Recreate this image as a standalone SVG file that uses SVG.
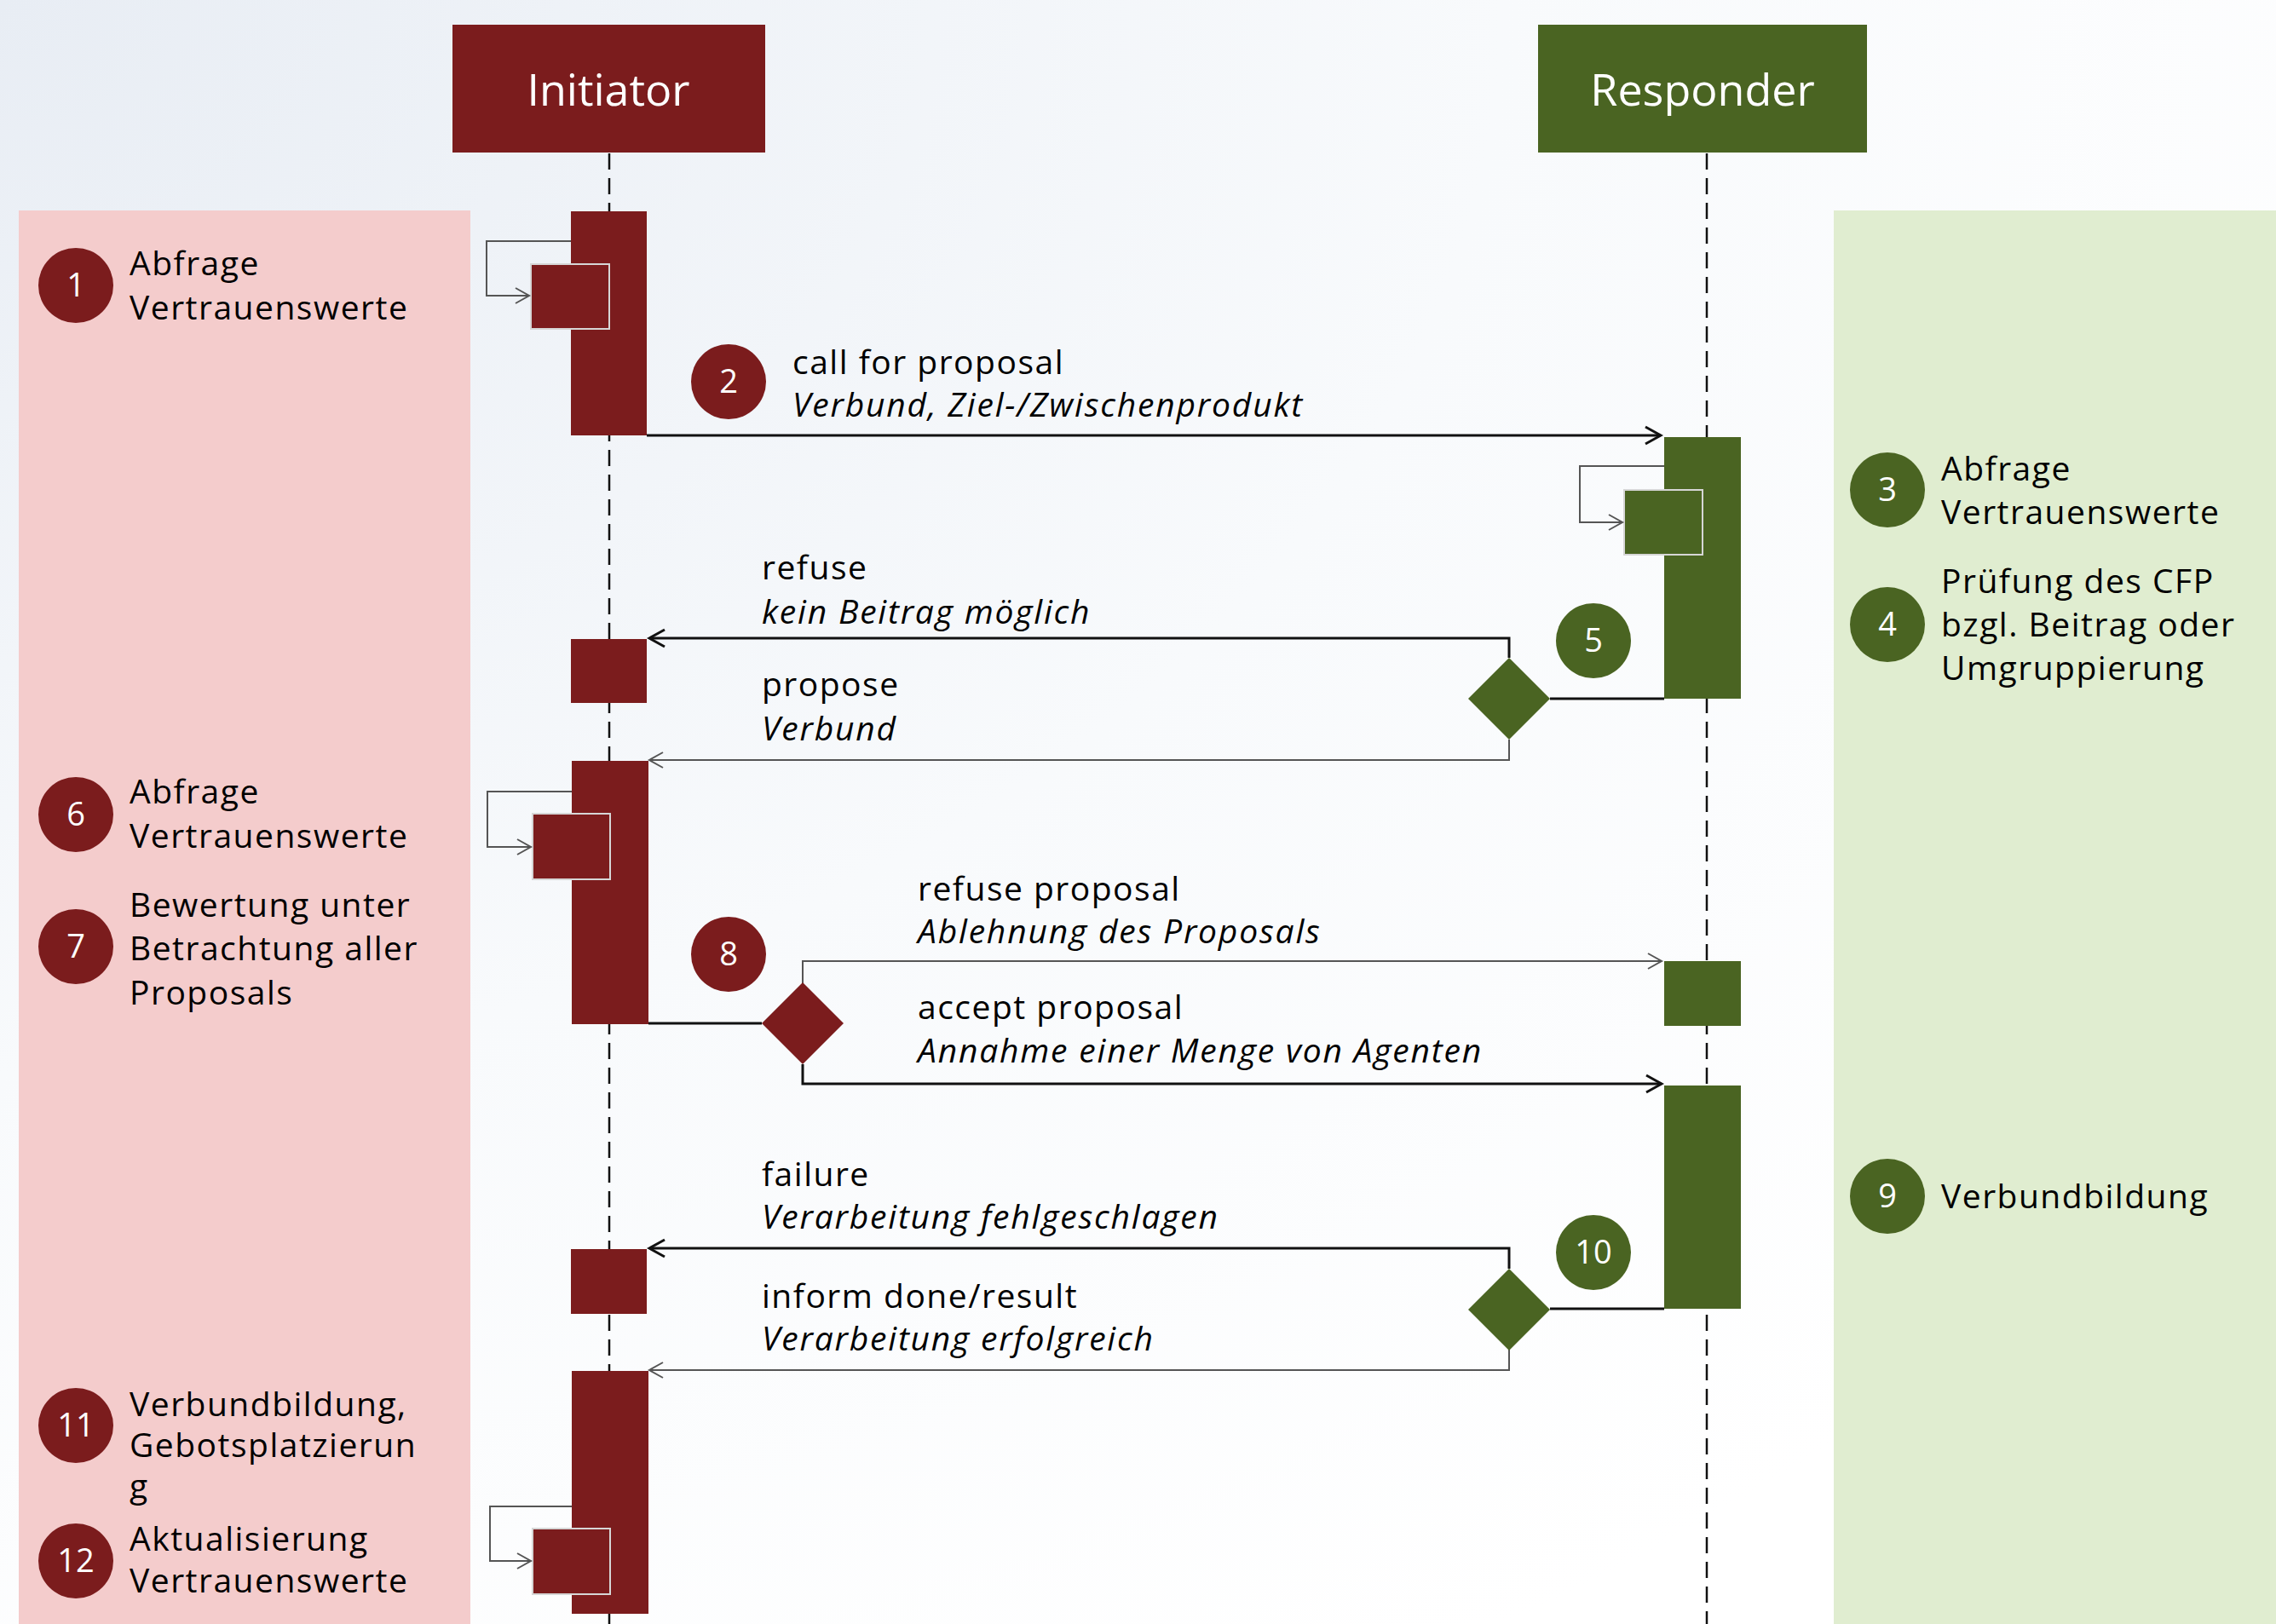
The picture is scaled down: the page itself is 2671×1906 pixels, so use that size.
<svg xmlns="http://www.w3.org/2000/svg" width="2671" height="1906" viewBox="0 0 2671 1906">
<defs>
<radialGradient id="bg" cx="0" cy="0" r="1.2" gradientUnits="objectBoundingBox">
<stop offset="0" stop-color="#e8edf4"/>
<stop offset="0.55" stop-color="#f8fafc"/>
<stop offset="1" stop-color="#ffffff"/>
</radialGradient>
<marker id="ah" markerWidth="24" markerHeight="24" refX="21" refY="12" orient="auto" markerUnits="userSpaceOnUse">
<path d="M3,2 L21,12 L3,22" fill="none" stroke="#111" stroke-width="3"/>
</marker>
<marker id="ahg" markerWidth="24" markerHeight="24" refX="21" refY="12" orient="auto" markerUnits="userSpaceOnUse">
<path d="M5,3 L21,12 L5,21" fill="none" stroke="#555" stroke-width="2"/>
</marker>
<style>
.red{fill:#7b1c1d}
.grn{fill:#4a6422}
.self{stroke:#d6d6d6;stroke-width:2}
.life{stroke:#111;stroke-width:2.5;stroke-dasharray:19 10;fill:none}
.msg{stroke:#111;stroke-width:3;fill:none}
.msgg{stroke:#555;stroke-width:2;fill:none}
.loop{stroke:#555;stroke-width:2;fill:none}
.t{font-family:"Open Sans","Noto Sans",sans-serif;font-size:39px;letter-spacing:1.5px;fill:#000}
.i{font-style:italic;letter-spacing:1.8px}
.num{font-family:"Open Sans","Noto Sans",sans-serif;font-size:38px;fill:#fff;text-anchor:middle}
.title{font-family:"Open Sans","Noto Sans",sans-serif;font-size:52px;fill:#fff;text-anchor:middle}
</style>
</defs>
<rect x="0" y="0" width="2671" height="1906" fill="url(#bg)"/>
<rect x="22" y="247" width="530" height="1659" fill="#f4cccc"/>
<rect x="2152" y="247" width="519" height="1659" fill="#e0edd0"/>

<g id="lifelines">
<line class="life" x1="715" y1="180" x2="715" y2="1906"/>
<line class="life" x1="2003" y1="180" x2="2003" y2="1906"/>
</g>

<g id="initiator">
<rect class="red" x="531" y="29" width="367" height="150"/>
<text class="title" x="714" y="124">Initiator</text>
</g>
<g id="responder">
<rect class="grn" x="1805" y="29" width="386" height="150"/>
<text class="title" x="1998" y="124">Responder</text>
</g>

<g id="activations">
<rect class="red" x="670" y="248" width="89" height="263"/>
<rect class="red self" x="623" y="310" width="92" height="76"/>
<rect class="red" x="670" y="750" width="89" height="75"/>
<rect class="red" x="671" y="893" width="90" height="309"/>
<rect class="red self" x="625" y="955" width="91" height="77"/>
<rect class="red" x="670" y="1466" width="89" height="76"/>
<rect class="red" x="671" y="1609" width="90" height="285"/>
<rect class="red self" x="625" y="1794" width="91" height="77"/>
<rect class="grn" x="1953" y="513" width="90" height="307"/>
<rect class="grn self" x="1906" y="575" width="92" height="76"/>
<rect class="grn" x="1953" y="1128" width="90" height="76"/>
<rect class="grn" x="1953" y="1274" width="90" height="262"/>
</g>

<g id="connectors">
<polyline class="loop" points="670,283 571,283 571,347 621,347" marker-end="url(#ahg)"/>
<polyline class="loop" points="671,929 572,929 572,994 623,994" marker-end="url(#ahg)"/>
<polyline class="loop" points="671,1768 575,1768 575,1832 623,1832" marker-end="url(#ahg)"/>
<polyline class="loop" points="1953,547 1854,547 1854,613 1904,613" marker-end="url(#ahg)"/>
<line class="msg" x1="759" y1="511" x2="1949" y2="511" marker-end="url(#ah)"/>
<line class="msg" x1="1953" y1="820" x2="1819" y2="820"/>
<polyline class="msg" points="1771,772 1771,749 762,749" marker-end="url(#ah)"/>
<polyline class="msgg" points="1771,868 1771,892 762,892" marker-end="url(#ahg)"/>
<line class="msg" x1="761" y1="1201" x2="894" y2="1201"/>
<polyline class="msgg" points="942,1154 942,1128 1950,1128" marker-end="url(#ahg)"/>
<polyline class="msg" points="942,1249 942,1272 1950,1272" marker-end="url(#ah)"/>
<line class="msg" x1="1953" y1="1536" x2="1819" y2="1536"/>
<polyline class="msg" points="1771,1489 1771,1465 762,1465" marker-end="url(#ah)"/>
<polyline class="msgg" points="1771,1584 1771,1608 762,1608" marker-end="url(#ahg)"/>
</g>

<g id="decision5"><path class="grn" d="M1771,772 L1819,820 L1771,868 L1723,820 Z"/></g>
<g id="decision8"><path class="red" d="M942,1153 L990,1201 L942,1249 L894,1201 Z"/></g>
<g id="decision10"><path class="grn" d="M1771,1489 L1819,1537 L1771,1585 L1723,1537 Z"/></g>

<g id="labels">
<text class="t" x="930" y="439">call for proposal</text>
<text class="t i" x="930" y="489">Verbund, Ziel-/Zwischenprodukt</text>
<text class="t" x="894" y="680">refuse</text>
<text class="t i" x="894" y="732">kein Beitrag möglich</text>
<text class="t" x="894" y="817">propose</text>
<text class="t i" x="894" y="869">Verbund</text>
<text class="t" x="1077" y="1057">refuse proposal</text>
<text class="t i" x="1077" y="1107">Ablehnung des Proposals</text>
<text class="t" x="1077" y="1196">accept proposal</text>
<text class="t i" x="1077" y="1247">Annahme einer Menge von Agenten</text>
<text class="t" x="894" y="1392">failure</text>
<text class="t i" x="894" y="1442">Verarbeitung fehlgeschlagen</text>
<text class="t" x="894" y="1535">inform done/result</text>
<text class="t i" x="894" y="1585">Verarbeitung erfolgreich</text>
</g>

<g id="step1"><circle class="red" cx="89" cy="335" r="44"/><text class="num" x="89" y="348">1</text>
<text class="t" x="152" y="323">Abfrage</text><text class="t" x="152" y="375">Vertrauenswerte</text></g>
<g id="step2"><circle class="red" cx="855" cy="448" r="44"/><text class="num" x="855" y="461">2</text></g>
<g id="step3"><circle class="grn" cx="2215" cy="575" r="44"/><text class="num" x="2215" y="588">3</text>
<text class="t" x="2278" y="564">Abfrage</text><text class="t" x="2278" y="615">Vertrauenswerte</text></g>
<g id="step4"><circle class="grn" cx="2215" cy="733" r="44"/><text class="num" x="2215" y="746">4</text>
<text class="t" x="2278" y="696">Prüfung des CFP</text><text class="t" x="2278" y="747">bzgl. Beitrag oder</text><text class="t" x="2278" y="798">Umgruppierung</text></g>
<g id="step5"><circle class="grn" cx="1870" cy="752" r="44"/><text class="num" x="1870" y="765">5</text></g>
<g id="step6"><circle class="red" cx="89" cy="956" r="44"/><text class="num" x="89" y="969">6</text>
<text class="t" x="152" y="943">Abfrage</text><text class="t" x="152" y="995">Vertrauenswerte</text></g>
<g id="step7"><circle class="red" cx="89" cy="1111" r="44"/><text class="num" x="89" y="1124">7</text>
<text class="t" x="152" y="1076">Bewertung unter</text><text class="t" x="152" y="1127">Betrachtung aller</text><text class="t" x="152" y="1179">Proposals</text></g>
<g id="step8"><circle class="red" cx="855" cy="1120" r="44"/><text class="num" x="855" y="1133">8</text></g>
<g id="step9"><circle class="grn" cx="2215" cy="1404" r="44"/><text class="num" x="2215" y="1417">9</text>
<text class="t" x="2278" y="1418">Verbundbildung</text></g>
<g id="step10"><circle class="grn" cx="1870" cy="1470" r="44"/><text class="num" x="1870" y="1483">10</text></g>
<g id="step11"><circle class="red" cx="89" cy="1673" r="44"/><text class="num" x="89" y="1686">11</text>
<text class="t" x="152" y="1662">Verbundbildung,</text><text class="t" x="152" y="1710">Gebotsplatzierun</text><text class="t" x="152" y="1758">g</text></g>
<g id="step12"><circle class="red" cx="89" cy="1832" r="44"/><text class="num" x="89" y="1845">12</text>
<text class="t" x="152" y="1820">Aktualisierung</text><text class="t" x="152" y="1869">Vertrauenswerte</text></g>
</svg>
